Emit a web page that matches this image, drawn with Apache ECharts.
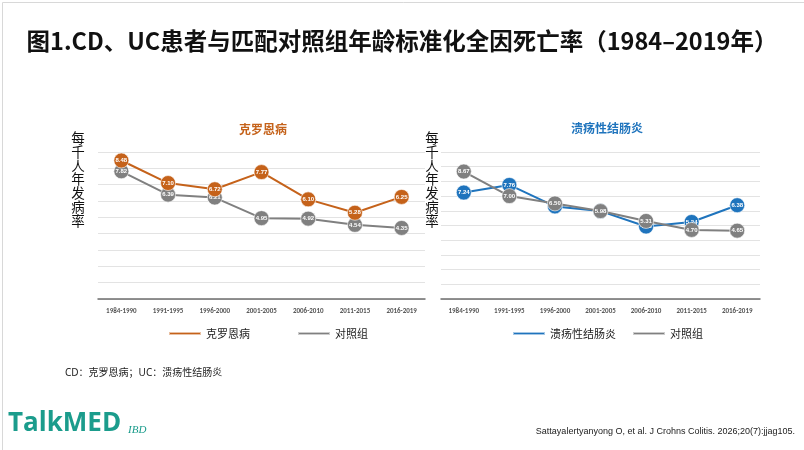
<!DOCTYPE html>
<html><head><meta charset="utf-8">
<script src="https://cdn.jsdelivr.net/npm/echarts@6/dist/echarts.min.js"></script>
<style>html,body{margin:0;padding:0;background:#fff}#c{width:804px;height:450px}</style>
</head><body><div id="c"></div>
<script>
const categories = ['1984-1990','1991-1995','1996-2000','2001-2005','2006-2010','2011-2015','2016-2019'];
const cdValues = [8.48, 7.10, 6.72, 7.77, 6.10, 5.28, 6.25];
const cdControl = [7.82, 6.39, 6.21, 4.95, 4.92, 4.54, 4.35];
const ucValues = [7.24, 7.76, 6.30, 5.98, 4.93, 5.24, 6.38];
const ucControl = [8.67, 7.00, 6.50, 5.98, 5.31, 4.70, 4.65];

const ORANGE = '#c5621a', GRAY = '#808080', BLUE = '#1f74bd';
const FONT = '"Noto Sans CJK SC", "Noto Sans", sans-serif';
const FONT2 = '"Noto Sans", "Noto Sans CJK SC", sans-serif';

function lineSeries(name, data, color, idx, z) {
  return {
    name, type: 'line', data, xAxisIndex: idx, yAxisIndex: idx, z,
    symbol: 'circle', symbolSize: 15,
    lineStyle: { color, width: 2 },
    itemStyle: { color, borderColor: 'rgba(255,255,255,0.6)', borderWidth: 1 },
    label: { show: true, position: 'inside', color: '#fff', fontSize: 6, fontWeight: 'bold',
      fontFamily: 'Arial', formatter: p => p.value.toFixed(2) },
    emphasis: { disabled: true }, animation: false
  };
}
function xAx(i) {
  return { type: 'category', gridIndex: i, data: categories, boundaryGap: true,
    axisLine: { lineStyle: { color: '#6e6e6e', width: 1.5 } }, axisTick: { show: false },
    axisLabel: { fontSize: 7, color: '#555', fontWeight: 'bold', fontFamily: 'Calibri, Carlito, "Liberation Sans", Arial', margin: 9 } };
}
function yAx(i, max) {
  return { type: 'value', gridIndex: i, min: 0, max, interval: 1,
    axisLine: { show: false }, axisTick: { show: false }, axisLabel: { show: false },
    splitLine: { lineStyle: { color: '#e3e3e3', width: 1 } } };
}
const vText = '每\n千\n人\n年\n发\n病\n率';
const chart = echarts.init(document.getElementById('c'));
chart.setOption({
  backgroundColor: '#fff',
  animation: false,
  grid: [
    { left: 98, top: 152, width: 327, height: 147 },
    { left: 441, top: 152, width: 319, height: 147 }
  ],
  xAxis: [xAx(0), xAx(1)],
  yAxis: [yAx(0, 9), yAx(1, 10)],
  legend: [
    { data: ['克罗恩病', '对照组'], left: 163, top: 323, itemWidth: 32, itemHeight: 3, icon: 'rect', itemGap: 47,
      textStyle: { fontSize: 11, color: '#222', fontFamily: FONT }, selectedMode: false },
    { data: ['溃疡性结肠炎', { name: '对照组 ', icon: 'rect' }], left: 507, top: 323, itemWidth: 32, itemHeight: 3, icon: 'rect', itemGap: 16,
      textStyle: { fontSize: 11, color: '#222', fontFamily: FONT }, selectedMode: false,
      formatter: n => n.trim() }
  ],
  series: [
    lineSeries('克罗恩病', cdValues, ORANGE, 0, 3),
    lineSeries('对照组', cdControl, GRAY, 0, 2),
    lineSeries('溃疡性结肠炎', ucValues, BLUE, 1, 2),
    lineSeries('对照组 ', ucControl, GRAY, 1, 3)
  ],
  graphic: [
    { type: 'rect', left: 0, top: 0, shape: { width: 803, height: 449 }, style: { fill: 'none', stroke: '#d8d8d8', lineWidth: 1 }, silent: true },
    { type: 'text', x: 402, y: 41, style: { text: '图1.CD、UC患者与匹配对照组年龄标准化全因死亡率（1984–2019年）', font: 'bold 23.5px ' + FONT, fill: '#111', align: 'center', verticalAlign: 'middle' } },
    { type: 'text', x: 263, y: 129, style: { text: '克罗恩病', font: 'bold 12px ' + FONT, fill: '#c5621a', align: 'center', verticalAlign: 'middle' } },
    { type: 'text', x: 607, y: 128, style: { text: '溃疡性结肠炎', font: 'bold 12px ' + FONT, fill: '#1f74bd', align: 'center', verticalAlign: 'middle' } },
    { type: 'text', x: 78, y: 131, style: { text: vText, font: '13.5px ' + FONT, lineHeight: 13.8, fill: '#111', align: 'center', verticalAlign: 'top' } },
    { type: 'text', x: 432, y: 131, style: { text: vText, font: '13.5px ' + FONT, lineHeight: 13.8, fill: '#111', align: 'center', verticalAlign: 'top' } },
    { type: 'text', x: 65, y: 373, style: { text: 'CD：克罗恩病；UC：溃疡性结肠炎', font: '10px ' + FONT2, fill: '#222', verticalAlign: 'middle' } },
    { type: 'text', x: 8, y: 424, style: { text: 'TalkMED', font: 'bold 26px "Open Sans", "Liberation Sans", sans-serif', fill: '#1b9c8c', verticalAlign: 'middle' } },
    { type: 'text', x: 128, y: 430, style: { text: 'IBD', font: 'italic 11px "Liberation Serif", serif', fill: '#1b9c8c', verticalAlign: 'middle' } },
    { type: 'text', x: 795, y: 432, style: { text: 'Sattayalertyanyong O, et al. J Crohns Colitis. 2026;20(7):jjag105.', font: '9px "Liberation Sans", Arial, sans-serif', fill: '#222', align: 'right', verticalAlign: 'middle' } }
  ]
});
</script></body></html>
